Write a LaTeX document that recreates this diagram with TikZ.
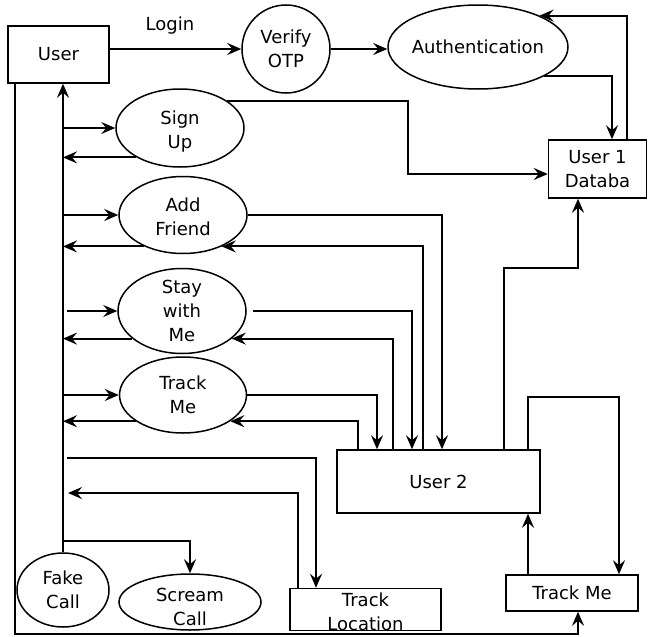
\documentclass[tikz,border=0pt]{standalone}
\usepackage{fontspec}
\setmainfont{DejaVu Sans}
\usetikzlibrary{shapes.geometric,arrows.meta,calc}
\begin{document}
\begin{tikzpicture}[x=1pt,y=-1pt,
  txt/.style={font=\fontsize{18}{24}\selectfont, align=center, text=black},
  box/.style={draw, rectangle, line width=1.5pt, inner sep=0pt, txt},
  proc/.style={draw, ellipse, line width=1.5pt, inner sep=0pt, txt},
  arr/.style={line width=1.9pt, -{Stealth[length=14pt,width=12pt,inset=5pt]}}]
\useasboundingbox (0,0) rectangle (648,637);

% nodes
\node[box, minimum width=101pt, minimum height=57pt] (user) at (58.5,54.5) {User};
\node[draw, circle, line width=1.5pt, minimum size=88pt, inner sep=0pt, txt] (otp) at (286,49) {Verify\\OTP};
\node[proc, minimum width=180pt, minimum height=84pt, label={[txt]center:Authentication}] (auth) at (478,47) {};
\node[box, minimum width=98pt, minimum height=58pt] (db) at (597.5,169) {User 1\\Databa};
\node[proc, minimum width=128pt, minimum height=78pt, label={[txt,yshift=-4pt]center:Sign\\Up}] (signup) at (180,128) {};
\node[proc, minimum width=128pt, minimum height=77pt, label={[txt,yshift=-2pt]center:Add\\Friend}] (addfriend) at (183,215) {};
\node[proc, minimum width=128pt, minimum height=85pt, label={[txt]center:Stay\\with\\Me}] (staywithme) at (182,311) {};
\node[proc, minimum width=127pt, minimum height=76pt, label={[txt]center:Track\\Me}] (trackme) at (183,395) {};
\node[box, minimum width=203pt, minimum height=63pt] (user2) at (438.5,481.5) {User 2};
\node[box, minimum width=132pt, minimum height=36pt] (trackmebox) at (572,593) {Track Me};
\node[box, minimum width=151pt, minimum height=42pt, label={[txt,yshift=-2pt]center:Track\\Location}] (trackloc) at (365.5,609.5) {};
\node[proc, minimum width=92pt, minimum height=74pt, label={[txt]center:Fake\\Call}] (fakecall) at (63,590) {};
\node[proc, minimum width=142pt, minimum height=56pt, label={[txt,yshift=-5pt]center:Scream\\Call}] (scream) at (190,602) {};

\node[txt] (login) at (170,26) {Login};

% column coordinates
\coordinate (spine) at (63,0);
\coordinate (c358) at (358,0);
\coordinate (c377) at (377,0);
\coordinate (c393) at (393,0);
\coordinate (c412) at (412,0);
\coordinate (c423) at (423,0);
\coordinate (c442) at (442,0);
\coordinate (c298) at (298,0);
\coordinate (c316) at (316,0);
\coordinate (c578) at (578,0);
\coordinate (c619) at (619,0);
\coordinate (j1) at (408,174);
\coordinate (tl1) at (67,458);
\coordinate (tl2) at (68,493);
\coordinate (fc1) at (63,541);
\coordinate (r1) at (504,268);
\coordinate (r2) at (528,397);
\coordinate (b1) at (15,634);

% top row
\draw[arr] (user.east |- otp.west) -- (otp.west);
\draw[arr] (otp.east) -- (auth.west |- otp.east);
\draw[arr] (auth.-24) -| ($(db.north)+(14.5,0)$);
\draw[arr] ($(db.north)+(29.5,0)$) |- (auth.27);
\draw[arr] (signup.30) -| (j1) -- (j1 -| db.west);

% spine
\draw[arr] (fakecall.north) -- (fakecall.north |- user.south);
\draw[arr] (spine |- signup.west) -- (signup.west);
\draw[arr] (signup.214) -- (signup.214 -| spine);
\draw[arr] (spine |- addfriend.west) -- (addfriend.west);
\draw[arr] (addfriend.219) -- (addfriend.219 -| spine);
\draw[arr] ($(spine |- staywithme.west)+(4,0)$) -- (staywithme.west);
\draw[arr] (staywithme.209) -- (staywithme.209 -| spine);
\draw[arr] (spine |- trackme.west) -- (trackme.west);
\draw[arr] (trackme.209) -- (trackme.209 -| spine);

% to and from User 2
\draw[arr] (addfriend.east) -| (user2.north -| c442);
\draw[arr] (user2.north -| c423) |- (addfriend.-39);
\draw[arr] ($(staywithme.east)+(6,0)$) -| (user2.north -| c412);
\draw[arr] (user2.north -| c393) |- (staywithme.-29);
\draw[arr] (trackme.east) -| (user2.north -| c377);
\draw[arr] (user2.north -| c358) |- (trackme.-29);

% track location, scream call
\draw[arr] (tl1) -| (trackloc.north -| c316);
\draw[arr] (trackloc.north -| c298) |- (tl2);
\draw[arr] (fc1) -| (scream.north);

% right side
\draw[arr] (user2.north -| r1) |- (r1 -| c578) -- (db.south -| c578);
\draw[arr] (user2.north -| r2) |- (r2 -| c619) -- (trackmebox.north -| c619);
\draw[arr] (trackmebox.north -| r2) -- (user2.south -| r2);
\draw[arr] (user.south -| b1) |- (b1 -| c578) -- (trackmebox.south -| c578);
\end{tikzpicture}
\end{document}
